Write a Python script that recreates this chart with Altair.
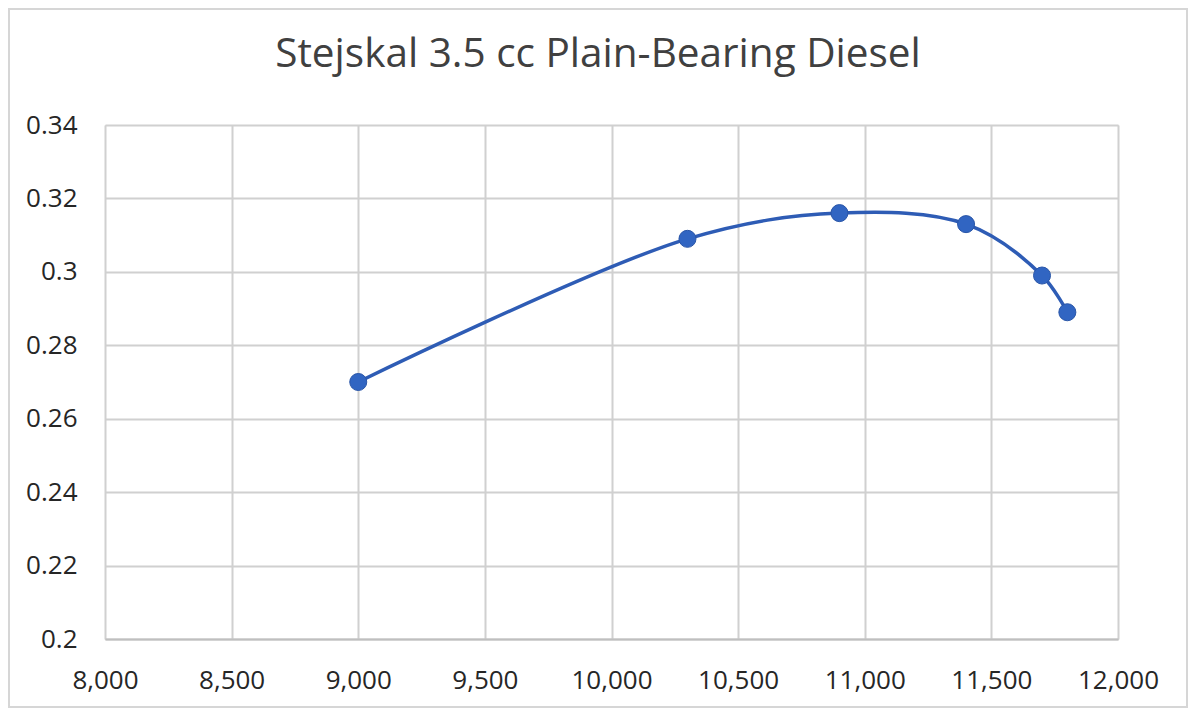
import altair as alt
import pandas as pd

rpm = [9000, 10300, 10900, 11400, 11700, 11800]
bhp = [0.270, 0.309, 0.316, 0.313, 0.299, 0.289]
x_ticks = [8000, 8500, 9000, 9500, 10000, 10500, 11000, 11500, 12000]
y_ticks = [0.2, 0.22, 0.24, 0.26, 0.28, 0.3, 0.32, 0.34]
title_text = "Stejskal 3.5 cc Plain-Bearing Diesel"

df = pd.DataFrame({"rpm": rpm, "bhp": bhp})
tdf = pd.DataFrame({"t": [title_text]})

xax = alt.Axis(title=None, values=x_ticks, labelExpr="format(datum.value, ',')",
               labelPadding=28, labelFontSize=26, labelColor="#262626", labelFont="Open Sans",
               labelFlush=False, labelOverlap=False,
               ticks=False, domain=True, domainColor="#bfbfbf", domainWidth=2,
               gridColor="#d0d0d0", gridWidth=2)
yax = alt.Axis(title=None, values=y_ticks, labelExpr="format(datum.value, '~g')",
               labelPadding=28, labelFontSize=26, labelFlush=False, labelOverlap=False,
               labelColor="#262626", labelFont="Open Sans", ticks=False, domain=False,
               gridColor="#d0d0d0", gridWidth=2)

base = alt.Chart(df).encode(
    x=alt.X("rpm:Q", scale=alt.Scale(domain=[8000, 12000], nice=False, zero=False), axis=xax),
    y=alt.Y("bhp:Q", scale=alt.Scale(domain=[0.2, 0.34], nice=False, zero=False), axis=yax),
)

line = base.mark_line(interpolate="catmull-rom", color="#2e5cb5", strokeWidth=3.5)
pts = base.mark_circle(size=290, color="#3165c2", opacity=1, stroke="#2a56a8", strokeWidth=1)

border = alt.Chart(tdf).mark_rect(fill=None, stroke="#d6d6d6", strokeWidth=2).encode(
    x=alt.value(-96), x2=alt.value(1082), y=alt.value(-116), y2=alt.value(582))
ttl = alt.Chart(tdf).mark_text(fontSize=40.5, font="Open Sans", color="#404040",
                               align="center", baseline="middle").encode(
    text="t:N", x=alt.value(493), y=alt.value(-70))

chart = alt.layer(line, pts, border, ttl).properties(
    width=1013, height=514,
    autosize=alt.AutoSizeParams(type="none"),
    padding={"left": 97, "top": 117, "right": 72, "bottom": 70},
).configure_view(stroke=None).configure(background="white")

chart.save("out.html", embed_options={"renderer": "svg", "actions": False})
